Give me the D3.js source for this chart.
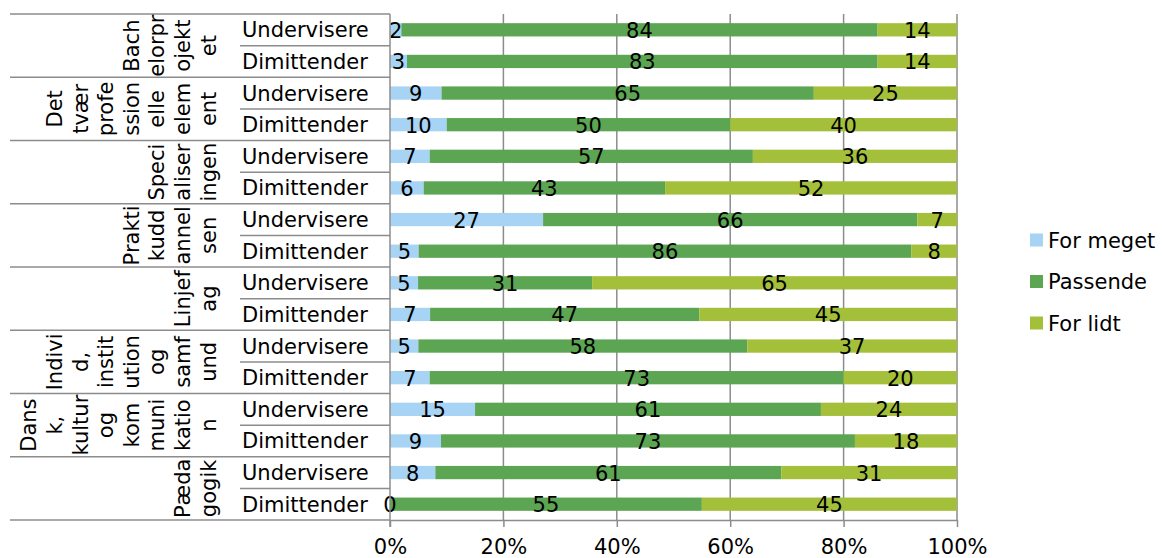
<!DOCTYPE html>
<html>
<head>
<meta charset="utf-8">
<script src="https://cdn.jsdelivr.net/npm/d3@7"></script>
<style>
  body { margin: 0; background: #fff; }
  svg { display: block; font-family: "DejaVu Sans", Verdana, sans-serif; }
</style>
</head>
<body>
<svg id="chart"></svg>
<script>
// group names (top to bottom) and how they wrap in the narrow label column
const groups = ['Bachelorprojektet', 'Det tværprofessionelle element', 'Specialiseringen',
  'Praktikuddannelsen', 'Linjefag', 'Individ, institution og samfund',
  'Dansk, kultur og kommunikation', 'Pædagogik'];
const groupLines = [
  ['Bach', 'elorpr', 'ojekt', 'et'],
  ['Det', 'tvær', 'profe', 'ssion', 'elle', 'elem', 'ent'],
  ['Speci', 'aliser', 'ingen'],
  ['Prakti', 'kudd', 'annel', 'sen'],
  ['Linjef', 'ag'],
  ['Indivi', 'd,', 'instit', 'ution', 'og', 'samf', 'und'],
  ['Dans', 'k,', 'kultur', 'og', 'kom', 'muni', 'katio', 'n'],
  ['Pæda', 'gogik']
];
const roles = ['Undervisere', 'Dimittender'];

const seriesNames = ['For meget', 'Passende', 'For lidt'];
const forMeget = [2, 3, 9, 10, 7, 6, 27, 5, 5, 7, 5, 7, 15, 9, 8, 0];
const passende = [84, 83, 65, 50, 57, 43, 66, 86, 31, 47, 58, 73, 61, 73, 61, 55];
const forLidt = [14, 14, 25, 40, 36, 52, 7, 8, 65, 45, 37, 20, 24, 18, 31, 45];
const ticks = [0, 0.2, 0.4, 0.6, 0.8, 1];

const colors = ['#a7d3f4', '#5ba553', '#a4c03a'];
const gridColor = '#8c8c8c';
const fontSize = 21;

const width = 1162, height = 558;
const plotLeft = 390, plotRight = 957, plotTop = 14, plotBottom = 520;

const svg = d3.select('#chart').attr('width', width).attr('height', height);

// one row per group x role
const rows = [];
groups.forEach((g, gi) => roles.forEach((r, ri) => {
  const i = gi * 2 + ri;
  rows.push({ id: i, group: g, role: r, 'For meget': forMeget[i], 'Passende': passende[i], 'For lidt': forLidt[i] });
}));

const stack = d3.stack().keys(seriesNames).offset(d3.stackOffsetExpand);
const stacked = stack(rows);

const x = d3.scaleLinear().domain([0, 1]).range([plotLeft, plotRight]);
const y = d3.scaleBand().domain(rows.map(d => d.id)).range([plotTop, plotBottom])
  .paddingInner(0.58).paddingOuter(0.29);
const step = y.step();

// vertical gridlines
svg.append('g')
  .selectAll('line')
  .data(ticks.slice(1))
  .enter().append('line')
  .attr('x1', d => x(d)).attr('x2', d => x(d))
  .attr('y1', plotTop).attr('y2', plotBottom)
  .attr('stroke', gridColor).attr('stroke-width', 1.5);

// bars
const layer = svg.append('g')
  .selectAll('g')
  .data(stacked)
  .enter().append('g')
  .attr('fill', (d, i) => colors[i]);

layer.selectAll('rect')
  .data(d => d)
  .enter().append('rect')
  .attr('x', d => x(d[0]))
  .attr('y', d => y(d.data.id))
  .attr('width', d => x(d[1]) - x(d[0]))
  .attr('height', y.bandwidth());

// value labels
stacked.forEach(s => {
  svg.append('g')
    .selectAll('text')
    .data(s)
    .enter().append('text')
    .attr('x', d => (x(d[0]) + x(d[1])) / 2)
    .attr('y', d => y(d.data.id) + y.bandwidth() / 2)
    .attr('dy', '0.38em')
    .attr('text-anchor', 'middle')
    .attr('font-size', fontSize)
    .attr('fill', '#000')
    .text(d => d.data[s.key]);
});

// x axis
const xAxis = svg.append('g')
  .attr('transform', `translate(0,${plotBottom})`)
  .call(d3.axisBottom(x).tickValues(ticks).tickFormat(d3.format('.0%')).tickSize(7).tickSizeOuter(0));
xAxis.select('.domain').attr('stroke', gridColor).attr('stroke-width', 1.5);
xAxis.selectAll('.tick line').attr('stroke', gridColor).attr('stroke-width', 1.5);
xAxis.selectAll('.tick text')
  .attr('font-family', '"DejaVu Sans", Verdana, sans-serif')
  .attr('font-size', fontSize).attr('fill', '#000').attr('y', 19);

// category axis: vertical line, separators, labels
svg.append('line')
  .attr('x1', plotLeft).attr('x2', plotLeft).attr('y1', plotTop).attr('y2', plotBottom + 7)
  .attr('stroke', gridColor).attr('stroke-width', 1.5);

// group separators
svg.append('g')
  .selectAll('line')
  .data(d3.range(groups.length + 1))
  .enter().append('line')
  .attr('x1', 10).attr('x2', plotLeft)
  .attr('y1', d => plotTop + d * 2 * step).attr('y2', d => plotTop + d * 2 * step)
  .attr('stroke', gridColor).attr('stroke-width', 1.5);

// separators between roles inside a group
svg.append('g')
  .selectAll('line')
  .data(groups)
  .enter().append('line')
  .attr('x1', 240).attr('x2', plotLeft)
  .attr('y1', (d, i) => plotTop + (i * 2 + 1) * step).attr('y2', (d, i) => plotTop + (i * 2 + 1) * step)
  .attr('stroke', gridColor).attr('stroke-width', 1.5);

// role labels
svg.append('g')
  .selectAll('text')
  .data(rows)
  .enter().append('text')
  .attr('x', 242)
  .attr('y', d => y(d.id) + y.bandwidth() / 2)
  .attr('dy', '0.36em')
  .attr('font-size', fontSize)
  .text(d => d.role);

// rotated group labels, lines stacked left to right ending near x=208
const lineGap = 25.6;
groupLines.forEach((lines, gi) => {
  const cy = plotTop + (gi * 2 + 1) * step;
  lines.forEach((t, li) => {
    const cx = 208 - (lines.length - 1 - li) * lineGap;
    svg.append('text')
      .attr('transform', `translate(${cx},${cy}) rotate(-90)`)
      .attr('text-anchor', 'middle')
      .attr('dy', '0.36em')
      .attr('font-size', fontSize)
      .text(t);
  });
});

// legend
const legend = svg.append('g')
  .selectAll('g')
  .data(seriesNames)
  .enter().append('g')
  .attr('transform', (d, i) => `translate(1030,${240 + i * 41.5})`);
legend.append('rect')
  .attr('x', 0).attr('y', -6.5).attr('width', 13).attr('height', 13)
  .attr('fill', (d, i) => colors[i]);
legend.append('text')
  .attr('x', 18).attr('dy', '0.36em')
  .attr('font-size', fontSize)
  .text(d => d);
</script>
</body>
</html>
